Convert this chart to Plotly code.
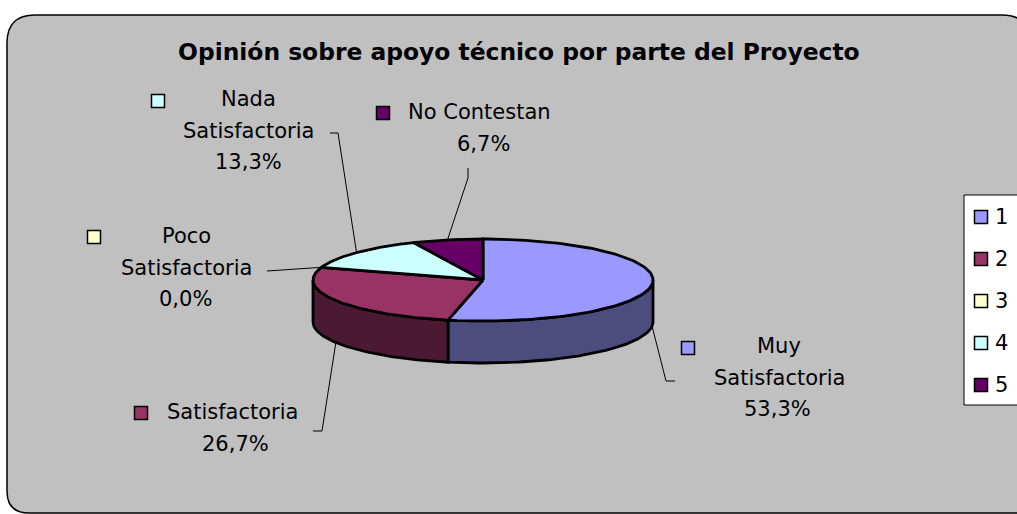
import numpy as np
import plotly.graph_objects as go

# ---------------- data ----------------
label_lines = [["Muy", "Satisfactoria"], ["Satisfactoria"], ["Poco", "Satisfactoria"],
               ["Nada", "Satisfactoria"], ["No Contestan"]]
percent = [53.3, 26.7, 0.0, 13.3, 6.7]
legend_labels = ["1", "2", "3", "4", "5"]
title = "Opinión sobre apoyo técnico por parte del Proyecto"

# ---------------- styles ----------------
top_colors = ["#9999FF", "#993366", "#FFFFCC", "#CCFFFF", "#660066"]
side_colors = ["#4C4C7F", "#4C1933", "#7F7F66", "#667F7F", "#330033"]
FONT = "DejaVu Sans"
W, H = 1017, 514
CX, CY, A, B, DEPTH = 483, 280, 170, 41, 42

# label placement (layout): key marker, text centre x, first line y
key_pos = [(688, 348), (141, 413), (94, 237), (158, 101), (383, 113)]
text_x = [779, 232, 186, 248, 479]
pct_x = [777, 235, 185, 248, 483]
first_y = [346, 412, 236, 99, 112]
LINE_STEP = 31.5
# leader-line elbows (from label side); pie end is computed from the data
leader_elbows = [[(675, 381), (666, 381)], [(313, 431), (322, 431)], [(267, 271)],
                 [(330, 133), (338, 133)], [(468, 168), (468, 178)]]


def ell(theta, dy=0.0):
    t = np.radians(theta)
    return CX + A * np.sin(t), CY - B * np.cos(t) + dy


fig = go.Figure()

# angles
total = sum(percent)
starts, ends = [], []
acc = 0.0
for v in percent:
    starts.append(acc / total * 360)
    acc += v
    ends.append(acc / total * 360)

# side walls (front half 90..270)
for i in range(len(percent)):
    lo, hi = max(starts[i], 90), min(ends[i], 270)
    if hi - lo <= 0:
        continue
    th = np.linspace(lo, hi, 80)
    xt, yt = ell(th)
    xb, yb = ell(th[::-1], DEPTH)
    xs = np.concatenate([xt, xb, xt[:1]])
    ys = np.concatenate([yt, yb, yt[:1]])
    fig.add_trace(go.Scatter(x=xs, y=ys, mode="lines", fill="toself",
                             fillcolor=side_colors[i],
                             line=dict(color="black", width=2.8),
                             hoverinfo="skip", showlegend=False))

# top faces
for i in range(len(percent)):
    if ends[i] - starts[i] <= 0:
        continue
    th = np.linspace(starts[i], ends[i], 120)
    xt, yt = ell(th)
    xs = np.concatenate([[CX], xt, [CX]])
    ys = np.concatenate([[CY], yt, [CY]])
    fig.add_trace(go.Scatter(x=xs, y=ys, mode="lines", fill="toself",
                             fillcolor=top_colors[i],
                             line=dict(color="black", width=2.8),
                             hoverinfo="skip", showlegend=False))

# leader lines
for i in range(len(percent)):
    mid = (starts[i] + ends[i]) / 2
    front = np.cos(np.radians(mid)) < 0
    px, py = ell(mid, DEPTH if front else 0)
    pts = leader_elbows[i] + [(px, py)]
    fig.add_trace(go.Scatter(x=[p[0] for p in pts], y=[p[1] for p in pts],
                             mode="lines", line=dict(color="black", width=1),
                             hoverinfo="skip", showlegend=False))

# label keys
fig.add_trace(go.Scatter(x=[k[0] for k in key_pos], y=[k[1] for k in key_pos],
                         mode="markers",
                         marker=dict(symbol="square", size=13, color=top_colors,
                                     line=dict(color="black", width=1.5)),
                         hoverinfo="skip", showlegend=False))

annotations = []
for i, lines in enumerate(label_lines):
    y = first_y[i]
    for ln in lines:
        annotations.append(dict(x=text_x[i], y=y, text=ln, showarrow=False,
                                xanchor="center", yanchor="middle",
                                font=dict(family=FONT, size=21, color="black")))
        y += LINE_STEP
    pct = f"{percent[i]:.1f}%".replace(".", ",")
    annotations.append(dict(x=pct_x[i], y=y, text=pct, showarrow=False,
                            xanchor="center", yanchor="middle",
                            font=dict(family=FONT, size=21, color="black")))

# legend
LEG_X0, LEG_Y0, LEG_Y1 = 964, 195, 405
leg_y = [217, 259, 301, 343, 385]
fig.add_trace(go.Scatter(x=[981] * len(legend_labels), y=leg_y, mode="markers",
                         marker=dict(symbol="square", size=13, color=top_colors,
                                     line=dict(color="black", width=1.5)),
                         hoverinfo="skip", showlegend=False))
for lab, yy in zip(legend_labels, leg_y):
    annotations.append(dict(x=993, y=yy, text=lab, showarrow=False,
                            xanchor="left", yanchor="middle",
                            font=dict(family=FONT, size=21, color="black")))

annotations.append(dict(x=519, y=52, text=f"<b>{title}</b>", showarrow=False,
                        xanchor="center", yanchor="middle",
                        font=dict(family=FONT, size=23.4, color="black")))

r = 28
frame_path = (f"M 7,{15 + r} Q 7,15 {7 + r},15 L {1002},15 Q 1030,15 1030,{15 + r} "
              f"L 1030,513 L {7 + 22},513 Q 7,513 7,{513 - 22} Z")
shapes = [
    dict(type="path", path=frame_path, xref="x", yref="y",
         fillcolor="#C0C0C0", line=dict(color="black", width=1.5), layer="below"),
    dict(type="rect", x0=LEG_X0, y0=LEG_Y0, x1=1030, y1=LEG_Y1, xref="x", yref="y",
         fillcolor="white", line=dict(color="black", width=1), layer="below"),
]

fig.update_layout(
    width=W, height=H, margin=dict(l=0, r=0, t=0, b=0),
    paper_bgcolor="white", plot_bgcolor="white",
    xaxis=dict(range=[0, W], visible=False, fixedrange=True),
    yaxis=dict(range=[H, 0], visible=False, fixedrange=True),
    shapes=shapes, annotations=annotations, hovermode=False, showlegend=False,
)

fig.write_html("out.html", config={"displayModeBar": False},
               post_script="document.body.style.margin='0';"
                           "document.body.style.overflow='hidden';")
